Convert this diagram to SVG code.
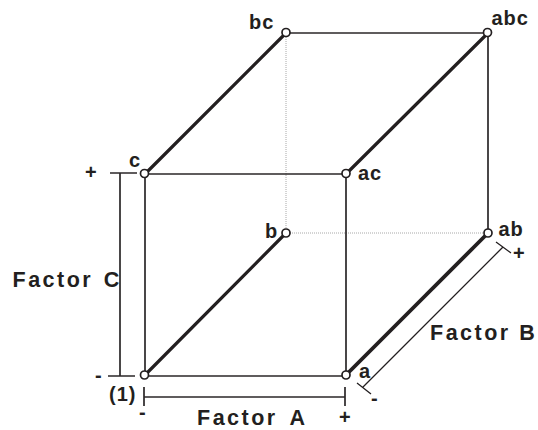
<svg xmlns="http://www.w3.org/2000/svg" width="538" height="430" viewBox="0 0 538 430">
<style>
.e{stroke:#2b2728;fill:none;stroke-width:1.7}
.t{stroke:#231f20;fill:none;stroke-width:3.2}
.d{stroke:#a8a8a8;fill:none;stroke-width:1;stroke-dasharray:1 1}
.k{stroke:#231f20;fill:none;stroke-width:1.3}
.n{fill:#fff;stroke:#231f20;stroke-width:1.7}
text{font-family:"Liberation Sans",Arial,sans-serif;font-weight:700;fill:#231f20;font-size:20px}
.f{letter-spacing:2.500px;font-size:21.500px}
.l{letter-spacing:1px}
</style>
<rect width="538" height="430" fill="#fff"/>
<g id="connectors">
<path class="d" d="M286 33V233M286 233H488"/>
<path class="e" d="M145 174H346M145 174V376M346 174V376M145 376H346M286 33H488M488 33V233"/>
<path class="t" d="M145 375L286 233M145 174L286 33M346 174L488 33"/>
<path class="t" style="stroke-width:3.800" d="M346 375L488 233"/>
<path class="e" d="M110 173H137M120 173V376M108 376H135M144 397H345M144 387V406M345 387V406"/>
<path class="k" d="M363 387L503 247M357 383L371 394M496 242L511 253"/>
</g>
<g id="node-1"><circle class="n" cx="144.500" cy="375" r="4"/><text class="l" x="109" y="401">(1)</text></g>
<g id="node-a"><circle class="n" cx="346" cy="375" r="4"/><text class="l" x="359" y="378">a</text></g>
<g id="node-b"><circle class="n" cx="286" cy="233" r="4"/><text class="l" x="265" y="238">b</text></g>
<g id="node-ab"><circle class="n" cx="488" cy="233" r="4"/><text class="l" x="498.500" y="236">ab</text></g>
<g id="node-c"><circle class="n" cx="144.500" cy="173.500" r="4"/><text class="l" x="129" y="167">c</text></g>
<g id="node-ac"><circle class="n" cx="346" cy="173.500" r="4"/><text class="l" x="358" y="180">ac</text></g>
<g id="node-bc"><circle class="n" cx="286" cy="32.500" r="4"/><text class="l" x="249" y="29">bc</text></g>
<g id="node-abc"><circle class="n" cx="487.500" cy="32.500" r="4"/><text class="l" x="491.500" y="25">abc</text></g>
<g id="labels">
<text class="f" x="12.500" y="287" word-spacing="2">Factor C</text>
<text class="f" x="197" y="425" word-spacing="4">Factor A</text>
<text class="f" x="430" y="340">Factor B</text>
<text x="85" y="179">+</text>
<text x="95" y="382">-</text>
<text x="139" y="419">-</text>
<text x="339" y="424">+</text>
<text x="371" y="405">-</text>
<text x="513" y="260">+</text>
</g>
</svg>
